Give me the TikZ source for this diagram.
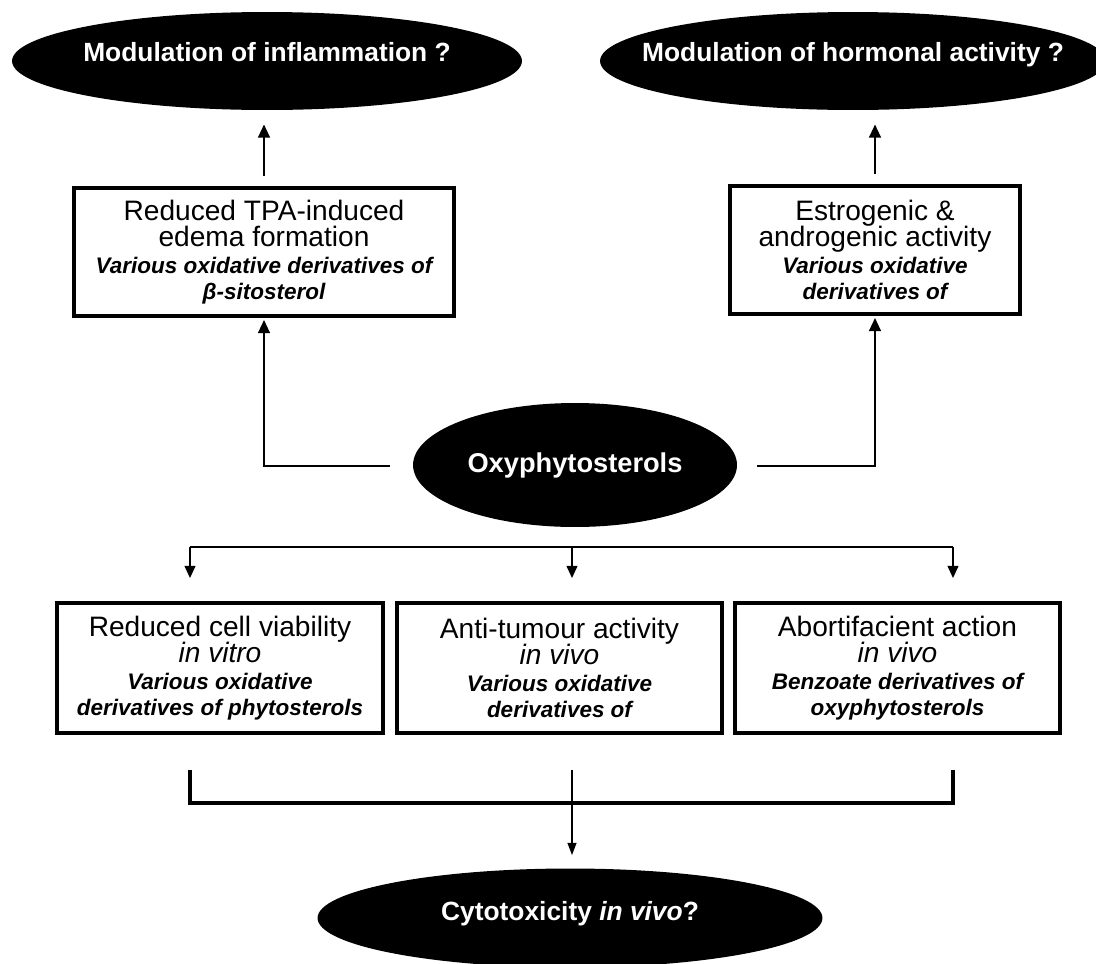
\documentclass[tikz,border=0pt]{standalone}
\usepackage{fontspec}
\setmainfont{Liberation Sans}
\usepackage{tikz}
\usetikzlibrary{arrows.meta, shapes.geometric}

\newcommand{\deriv}[1]{{\bfseries\itshape\fontsize{12.8}{15}\selectfont #1}}

\tikzset{
  blob/.style={ellipse, fill=black, text=white, inner xsep=-1.5cm, inner ysep=-0.5cm,
    font=\bfseries\fontsize{15}{18}\selectfont},
  effbox/.style={draw=black, line width=2.1pt, align=center, inner sep=0pt,
    font=\fontsize{16}{15}\selectfont},
  arr/.style={-{Triangle[length=7.5pt,width=6.5pt]}, line width=1.6pt},
  busarr/.style={-{Triangle[length=7pt,width=6pt]}, line width=1.4pt},
  bus/.style={line width=1.5pt},
  bracket/.style={line width=2.8pt},
  thinarr/.style={-{Triangle[length=7pt,width=5pt]}, line width=1pt},
}

\begin{document}
\begin{tikzpicture}[x=0.02cm, y=-0.02cm]
  \useasboundingbox (0,0) rectangle (1096,964);

  % outcomes on top
  \node[blob, minimum width=10.2cm, minimum height=1.96cm,
    text height=11pt, text depth=10pt] (infl) at (267,61)
    {Modulation of inflammation ?};
  \node[blob, minimum width=10.12cm, minimum height=1.96cm,
    text height=11pt, text depth=10pt] (horm) at (853,61)
    {Modulation of hormonal activity ?};

  % upper effects
  \node[effbox, minimum width=7.6cm, minimum height=2.56cm] (tpa) at (264,252)
    {Reduced TPA-induced\\ edema formation\\
     \deriv{Various oxidative derivatives of}\\ \deriv{β-sitosterol}};
  \node[effbox, minimum width=5.8cm, minimum height=2.56cm] (estro) at (875,250)
    {Estrogenic \&\\ androgenic activity\\
     \deriv{Various oxidative}\\ \deriv{derivatives of}};

  % source
  \node[blob, minimum width=6.48cm, minimum height=2.48cm,
    font=\bfseries\fontsize{15.5}{18}\selectfont] (oxy) at (575,465)
    {Oxyphytosterols};

  % lower effects
  \node[effbox, minimum width=6.52cm, minimum height=2.6cm] (cell) at (220,668)
    {Reduced cell viability\\ \textit{in vitro}\\
     \deriv{Various oxidative}\\ \deriv{derivatives of phytosterols}};
  \node[effbox, minimum width=6.5cm, minimum height=2.6cm] (tumour) at (559.5,668)
    {Anti-tumour activity\\ \textit{in vivo}\\
     \deriv{Various oxidative}\\ \deriv{derivatives of}};
  \node[effbox, minimum width=6.5cm, minimum height=2.6cm] (abort) at (897.5,668)
    {Abortifacient action\\ \textit{in vivo}\\
     \deriv{Benzoate derivatives of}\\ \deriv{oxyphytosterols}};

  % outcome at the bottom
  \node[blob, minimum width=10.1cm, minimum height=1.98cm,
    text height=11pt, text depth=8pt] (cyto) at (570,918)
    {Cytotoxicity \textit{in vivo}?};

  % upward links
  \draw[arr, shorten <=0.2cm, shorten >=0.28cm] (tpa.north) -- (infl.south -| tpa.north);
  \draw[arr, shorten <=0.2cm, shorten >=0.28cm] (estro.north) -- (horm.south -| estro.north);
  \coordinate (oxyL) at (390,466);
  \coordinate (oxyR) at (757,466);
  \draw[arr, shorten >=0.04cm] (oxyL) -| (tpa.south);
  \draw[arr, shorten >=0.04cm] (oxyR) -| (estro.south);

  % branching down
  \coordinate (busL) at (190,547);
  \coordinate (busM) at (572,547);
  \coordinate (busR) at (953,547);
  \draw[bus] (busL) -- (busR);
  \foreach \b/\n in {busL/cell, busM/tumour, busR/abort}
    \draw[busarr, shorten >=0.46cm] (\b) -- (\b |- \n.north);

  % bracket into the bottom outcome
  \coordinate (brL) at (190,770);
  \coordinate (brM) at (572,770);
  \coordinate (brR) at (953,770);
  \draw[bracket] (brL) -- ++(0,33) -| (brR);
  \draw[thinarr, shorten >=0.26cm] (brM) -- (brM |- cyto.north);
\end{tikzpicture}
\end{document}
